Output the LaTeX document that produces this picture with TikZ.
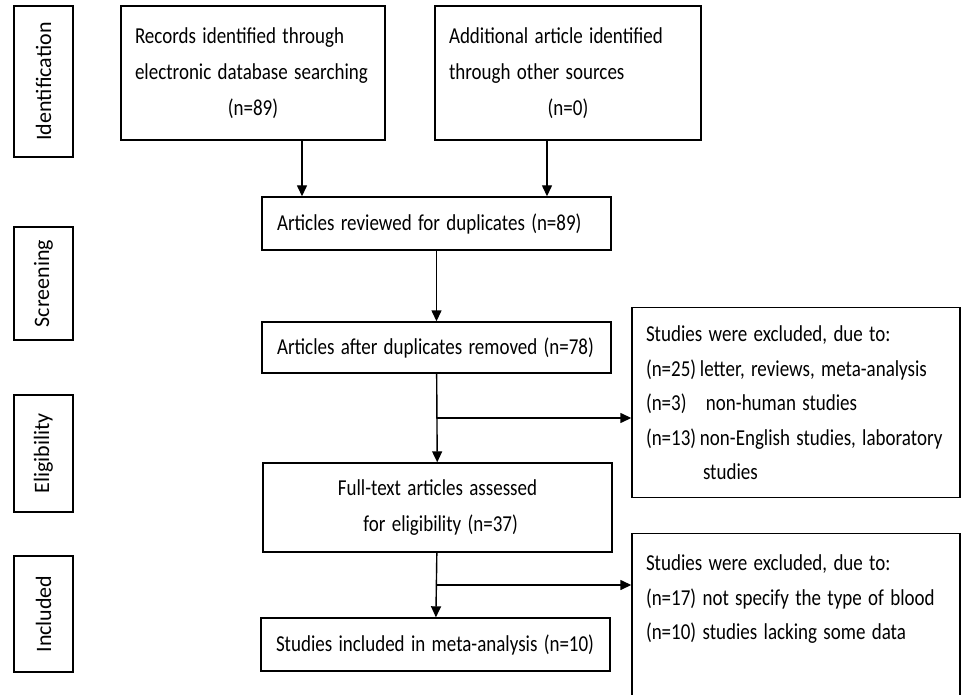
\documentclass[tikz,border=0pt]{standalone}
\usepackage{fontspec}
\usepackage{graphicx}
\setmainfont{Carlito}
\usetikzlibrary{arrows.meta,positioning}
% the lettering in the chart is a little taller than it is wide
\newcommand{\tall}[1]{\scalebox{1}[1.2]{#1}}

\begin{document}
\begin{tikzpicture}[x=1pt,y=-1pt,
  box/.style={draw,line width=1.4pt,inner sep=0pt,font=\fontsize{19}{36}\selectfont},
  excl/.style={box,anchor=north,minimum width=328pt,text width=300pt,align=left,font=\fontsize{19}{34.5}\selectfont},
  stagebox/.style={draw,line width=1.4pt,rotate=90,minimum height=59pt,inner sep=0pt,font=\fontsize{22}{24}\selectfont},
  flow/.style={line width=1.4pt,-{Triangle[length=11pt,width=10pt]}}]
  \useasboundingbox (0,0) rectangle (961,695);
  \clip (0,0) rectangle (961,695);

  % Phases, down the left side
  \node[stagebox,minimum width=151pt] (ident)  at (43.5,81.5)  {Identification};
  \node[stagebox,minimum width=113pt] (screen) at (43.5,283.5) {Screening};
  \node[stagebox,minimum width=117pt] (elig)   at (43.5,453.5) {Eligibility};
  \node[stagebox,minimum width=116pt] (incl)   at (43.5,614)   {Included};

  % The two sources
  \node[box,minimum width=264pt,minimum height=134pt,text width=236pt,align=left] (records) at (253,73)
    {\tall{Records identified through}\\\tall{electronic database searching}\\\tall{\makebox[236pt]{(n=89)}}};
  \node[box,minimum width=266pt,minimum height=134pt,text width=238pt,align=left] (additional) at (568,73)
    {\tall{Additional article identified}\\\tall{through other sources}\\\tall{\makebox[238pt]{(n=0)}}};

  % Main column
  \node[box,minimum width=349pt,minimum height=53pt,text width=319pt,align=left] (reviewed) at (436.5,223.5)
    {\tall{Articles reviewed for duplicates (n=89)}};
  \node[box,minimum width=349pt,minimum height=51pt,text width=319pt,align=left] (removed) at (436.5,347.5)
    {\tall{Articles after duplicates removed (n=78)}};
  \node[box,minimum width=349pt,minimum height=89pt,text width=319pt,align=center] (fulltext) at (437.5,507.5)
    {\tall{Full-text articles assessed}\\\tall{\ for eligibility (n=37)}};
  \node[box,minimum width=349pt,minimum height=53pt,text width=319pt,align=left] (included) at (435.5,644.5)
    {\tall{Studies included in meta-analysis (n=10)}};

  % Exclusions
  \node[excl,minimum height=190pt] (excl1) at (796,307)
    {\tall{Studies were excluded, due to:}\\
     \tall{\makebox[54pt][l]{(n=25)}letter, reviews, meta-analysis}\\
     \tall{\makebox[54pt][l]{(n=3)}\hspace*{6pt}non-human studies}\\
     \tall{\makebox[54pt][l]{(n=13)}\makebox[242pt][s]{non-English studies, laboratory}}\\
     \hspace*{57pt}\tall{studies}};
  \node[excl,minimum height=196pt] (excl2) at (796,533)
    {\tall{Studies were excluded, due to:}\\
     \tall{(n=17) not specify the type of blood}\\
     \tall{(n=10) studies lacking some data}\\
     \mbox{}\\
     \mbox{}};

  % Connectors
  \draw[flow] ([xshift=49pt]records.south) -- ([xshift=49pt]records.south |- reviewed.north);
  \draw[flow] ([xshift=-21pt]additional.south) -- ([xshift=-21pt]additional.south |- reviewed.north);
  \draw[flow] (reviewed) -- (removed);
  \draw[flow] (removed) -- (fulltext);
  \draw[flow] (fulltext) -- (included);
  \path (removed.south) -- (fulltext.north) coordinate[midway] (split1);
  \path (fulltext.south) -- (included.north) coordinate[midway] (split2);
  \draw[flow] (split1) -- (split1 -| excl1.west);
  \draw[flow] (split2) -- (split2 -| excl2.west);
\end{tikzpicture}
\end{document}
